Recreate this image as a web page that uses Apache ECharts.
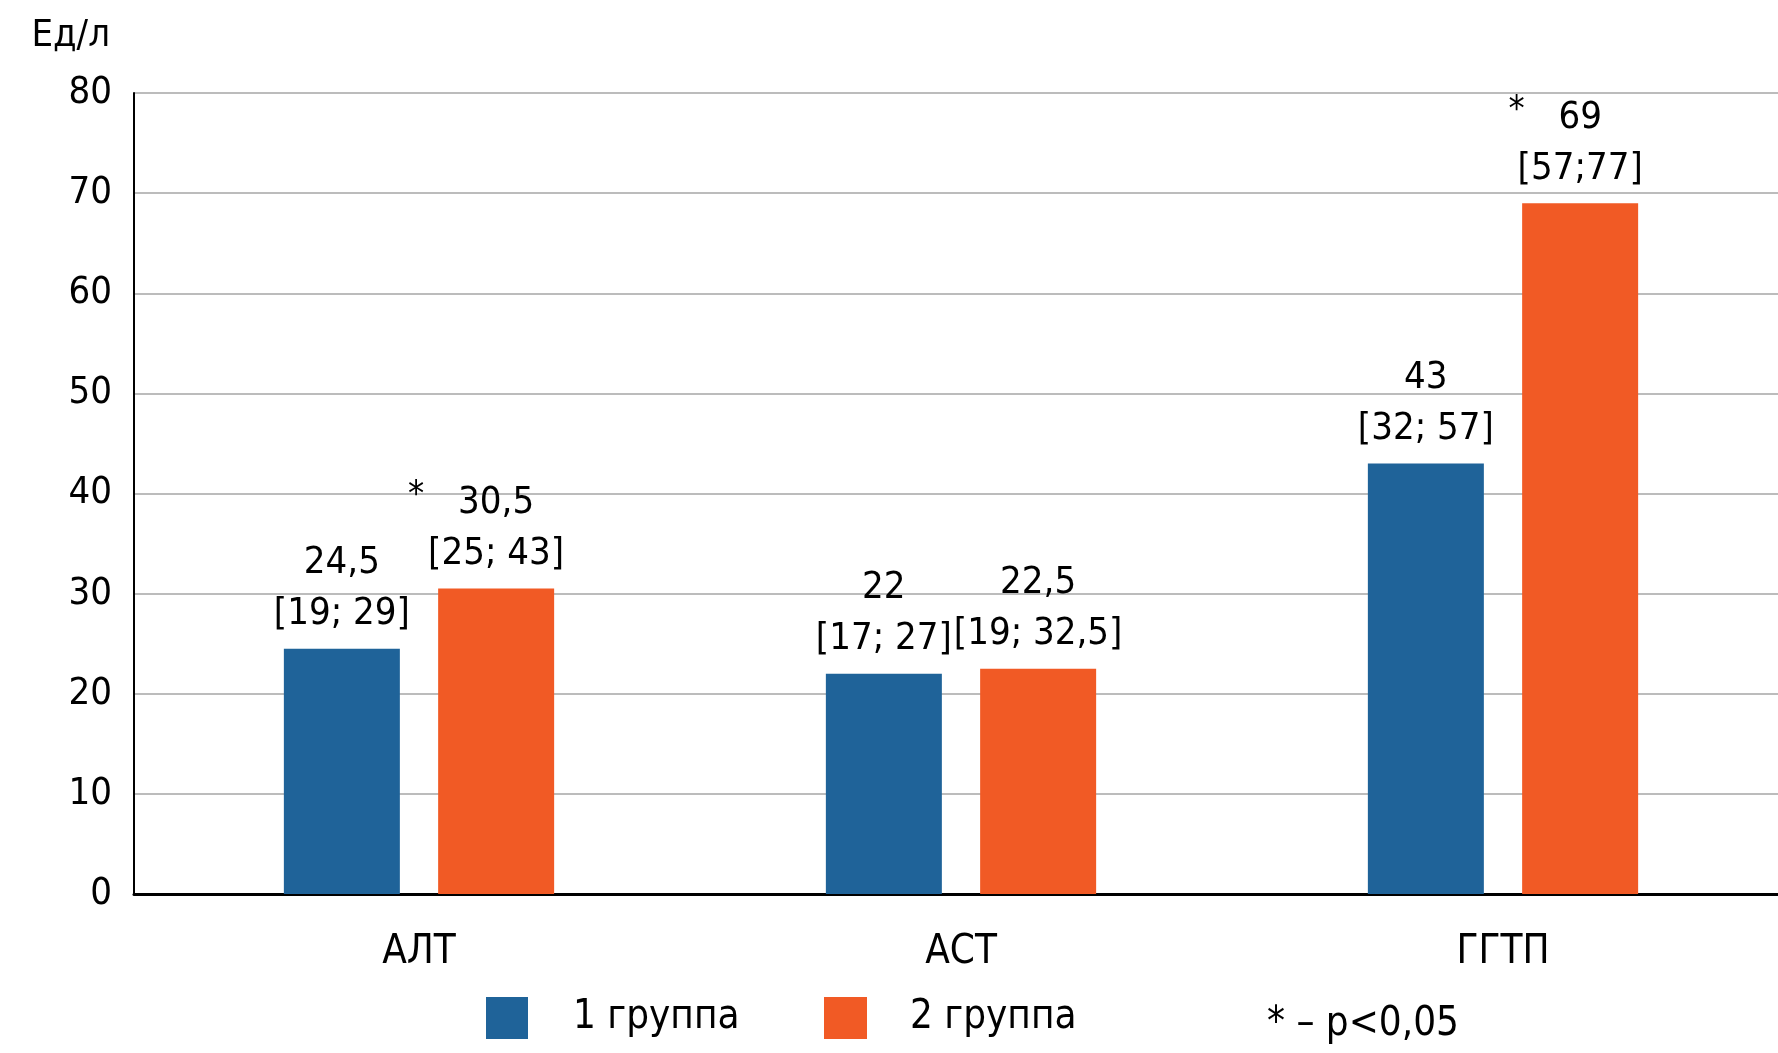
<!DOCTYPE html>
<html>
<head>
<meta charset="utf-8">
<script src="https://cdn.jsdelivr.net/npm/echarts@6/dist/echarts.min.js"></script>
<style>
html,body{margin:0;padding:0;background:#fff;}
#chart{width:1778px;height:1053px;}
</style>
</head>
<body>
<div id="chart"></div>
<script>
const categories = ['АЛТ', 'АСТ', 'ГГТП'];
const seriesNames = ['1 группа', '2 группа'];
const group1Values = [24.5, 22, 43];
const group2Values = [30.5, 22.5, 69];
const group1Iqr = ['[19; 29]', '[17; 27]', '[32; 57]'];
const group2Iqr = ['[25; 43]', '[19; 32,5]', '[57;77]'];
const group1Sig = [false, false, false];
const group2Sig = [true, false, true];
const yMin = 0, yMax = 80, yInterval = 10;
const yName = 'Ед/л';
const noteText = '* – p<0,05';

const FONT = "'Liberation Sans Narrow', 'DejaVu Sans Condensed', 'Roboto', sans-serif";
const BLUE = '#1f6399';
const ORANGE = '#f15a25';

function fmt(v){ return String(v).replace('.', ','); }

function makeLabel(iqr, sig){
  return {
    show: true,
    position: 'top',
    distance: 9,
    color: '#000',
    fontFamily: FONT,
    fontSize: 38,
    lineHeight: 51,
    formatter: function(p){
      const v = fmt(p.value);
      const i = p.dataIndex;
      if (sig[i]) {
        return '{a|*}{v|' + v + '}{b|}\n{v|' + iqr[i] + '}';
      }
      return '{v|' + v + '}\n{v|' + iqr[i] + '}';
    },
    rich: {
      v: {fontFamily: FONT, fontSize: 38, lineHeight: 51, color: '#000'},
      a: {fontFamily: FONT, fontSize: 36, lineHeight: 51, color: '#000', width: 50, align: 'left', padding: [0,0,14,0]},
      b: {width: 50}
    }
  };
}

const chart = echarts.init(document.getElementById('chart'), null, {renderer: 'canvas'});
chart.setOption({
  animation: false,
  backgroundColor: '#fff',
  grid: [
    {left: 134, right: 0, top: 93, bottom: 159, containLabel: false},
    {left: 148, right: 4, top: 93, bottom: 159, containLabel: false}
  ],
  xAxis: [
    {
      type: 'category', gridIndex: 0, data: categories,
      axisLine: {lineStyle: {color: '#000', width: 3}},
      axisTick: {show: false}, axisLabel: {show: false}
    },
    {
      type: 'category', gridIndex: 1, data: categories,
      axisLine: {show: false},
      axisTick: {show: false},
      axisLabel: {color: '#000', fontFamily: FONT, fontSize: 40, margin: 39}
    }
  ],
  yAxis: [
    {
      type: 'value', gridIndex: 0,
      min: yMin, max: yMax, interval: yInterval,
      name: yName,
      nameLocation: 'end',
      nameGap: 57,
      nameTextStyle: {color: '#000', fontFamily: FONT, fontSize: 38, align: 'right', verticalAlign: 'middle', padding: [0, 24, 0, 0]},
      axisLine: {show: true, lineStyle: {color: '#000', width: 2}},
      axisTick: {show: false},
      axisLabel: {color: '#000', fontFamily: FONT, fontSize: 38, margin: 22},
      splitLine: {lineStyle: {color: '#a6a6a6', width: 1.5}}
    },
    {
      type: 'value', gridIndex: 1,
      min: yMin, max: yMax, interval: yInterval,
      axisLine: {show: false}, axisTick: {show: false},
      axisLabel: {show: false}, splitLine: {show: false}
    }
  ],
  legend: [
    {data: [seriesNames[0]], left: 481, top: 992, itemWidth: 42, itemHeight: 42, icon: 'rect',
     textStyle: {color: '#000', fontFamily: FONT, fontSize: 40, padding: [0, 0, 0, 40]}},
    {data: [seriesNames[1]], left: 819, top: 992, itemWidth: 43, itemHeight: 42, icon: 'rect',
     textStyle: {color: '#000', fontFamily: FONT, fontSize: 40, padding: [0, 0, 0, 38]}}
  ],
  graphic: [
    {type: 'text', left: 1267, top: 1005, style: {text: noteText, fill: '#000', font: '40px ' + FONT}}
  ],
  series: [
    {name: seriesNames[0], type: 'bar', xAxisIndex: 1, yAxisIndex: 1, data: group1Values, barWidth: 116, barGap: '33%',
     itemStyle: {color: BLUE}, label: makeLabel(group1Iqr, group1Sig)},
    {name: seriesNames[1], type: 'bar', xAxisIndex: 1, yAxisIndex: 1, data: group2Values, barWidth: 116, barGap: '33%',
     itemStyle: {color: ORANGE}, label: makeLabel(group2Iqr, group2Sig)}
  ]
});
</script>
</body>
</html>
